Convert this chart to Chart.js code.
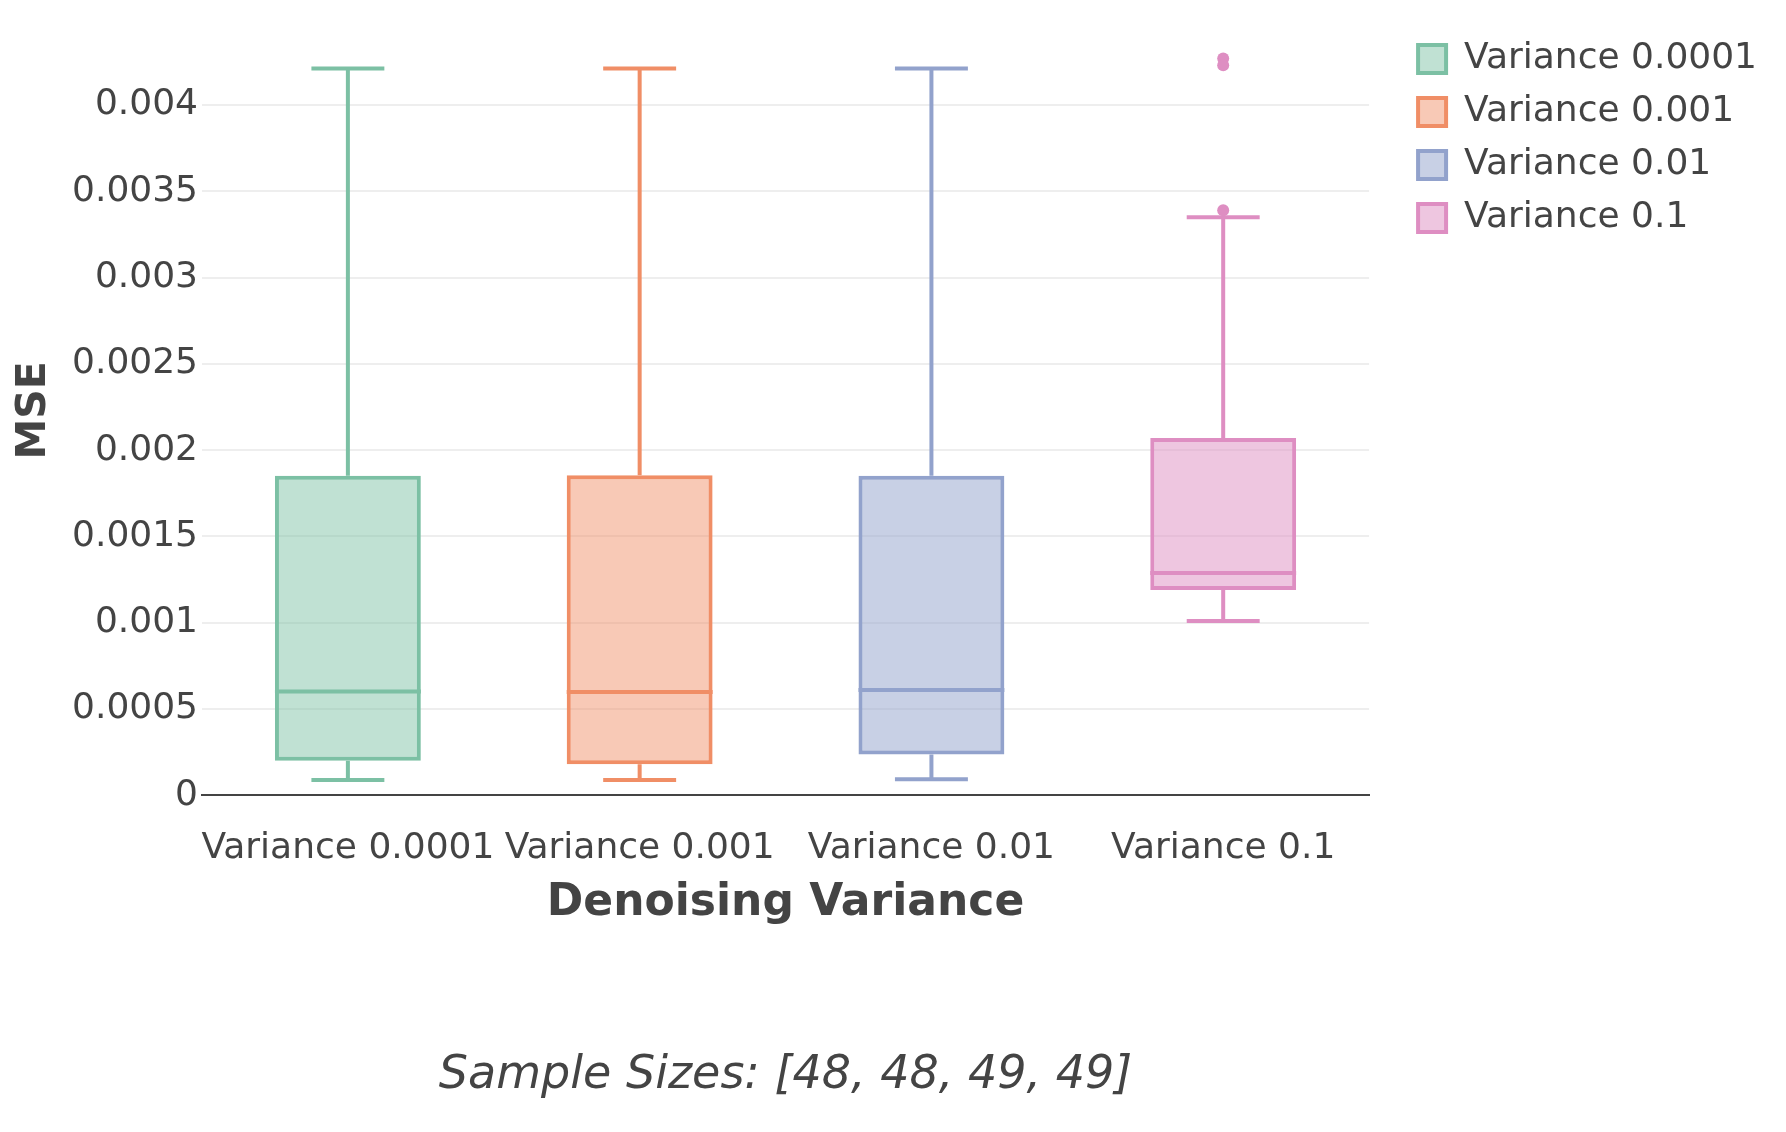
<!DOCTYPE html>
<html>
<head>
<meta charset="utf-8">
<title>MSE by denoising variance</title>
<script src="https://cdn.jsdelivr.net/npm/chart.js@4.4.0/dist/chart.umd.min.js"></script>
<style>
  html, body { margin: 0; padding: 0; background: #fff; }
  #wrap { width: 1786px; height: 1132px; }
</style>
</head>
<body>
<div id="wrap"><canvas id="boxChart" width="1786" height="1132"></canvas></div>
<script>
// box plot values
const categories = ['Variance 0.0001', 'Variance 0.001', 'Variance 0.01', 'Variance 0.1'];
const whiskerLow = [0.000089, 0.000089, 0.000093, 0.00101];
const q1 = [0.0002, 0.00018, 0.000236, 0.001189];
const median = [0.000601, 0.000599, 0.00061, 0.001288];
const q3 = [0.001851, 0.001855, 0.001851, 0.00207];
const whiskerHigh = [0.004212, 0.004212, 0.004212, 0.003349];
const outliers = [[], [], [], [0.00427, 0.00423, 0.00339]];
const sampleSizes = [48, 48, 49, 49];

const yTicks = [0, 0.0005, 0.001, 0.0015, 0.002, 0.0025, 0.003, 0.0035, 0.004];
const yTickLabels = ['0', '0.0005', '0.001', '0.0015', '0.002', '0.0025', '0.003', '0.0035', '0.004'];

const lineColors = ['rgb(124,192,164)', 'rgb(240,142,102)', 'rgb(146,162,204)', 'rgb(222,142,194)'];
const fillColors = ['rgba(124,192,164,0.48)', 'rgba(240,142,102,0.48)', 'rgba(146,162,204,0.5)', 'rgba(222,142,194,0.5)'];

Chart.defaults.font.family = '"DejaVu Sans", Verdana, sans-serif';
Chart.defaults.color = '#444';

// one floating bar per category = the box (q1..q3)
const boxDatasets = categories.map((cat, i) => ({
  label: cat,
  data: categories.map((c, j) => (j === i ? [q1[i], q3[i]] : null)),
  backgroundColor: fillColors[i],
  borderColor: lineColors[i],
  borderWidth: 4,
  borderSkipped: false,
  grouped: false,
  barPercentage: 0.5,
  categoryPercentage: 1
}));

const outlierPoints = [];
const outlierColors = [];
outliers.forEach((vals, i) => {
  vals.forEach(v => {
    outlierPoints.push({ x: categories[i], y: v });
    outlierColors.push(lineColors[i]);
  });
});

const outlierDataset = {
  type: 'line',
  label: 'outliers',
  data: outlierPoints,
  showLine: false,
  pointRadius: 6,
  pointBorderWidth: 0,
  pointBackgroundColor: outlierColors,
  pointBorderColor: outlierColors
};

// median, whiskers and caps
const whiskers = {
  id: 'whiskers',
  afterDatasetsDraw(chart) {
    const ctx = chart.ctx;
    const y = chart.scales.y;
    categories.forEach((cat, i) => {
      const bar = chart.getDatasetMeta(i).data[i];
      if (!bar) return;
      const half = bar.width / 2;
      const yMed = y.getPixelForValue(median[i]);
      const yHi = y.getPixelForValue(whiskerHigh[i]);
      const yLo = y.getPixelForValue(whiskerLow[i]);
      ctx.save();
      ctx.strokeStyle = lineColors[i];
      ctx.lineWidth = 4;
      ctx.beginPath();
      ctx.moveTo(bar.x - half, yMed);
      ctx.lineTo(bar.x + half, yMed);
      ctx.moveTo(bar.x, y.getPixelForValue(q3[i]));
      ctx.lineTo(bar.x, yHi);
      ctx.moveTo(bar.x - half / 2, yHi);
      ctx.lineTo(bar.x + half / 2, yHi);
      ctx.moveTo(bar.x, y.getPixelForValue(q1[i]));
      ctx.lineTo(bar.x, yLo);
      ctx.moveTo(bar.x - half / 2, yLo);
      ctx.lineTo(bar.x + half / 2, yLo);
      ctx.stroke();
      ctx.restore();
    });
  }
};

const ctx = document.getElementById('boxChart');
const boxChart = new Chart(ctx, {
  type: 'bar',
  data: {
    labels: categories,
    datasets: [...boxDatasets, outlierDataset]
  },
  plugins: [whiskers],
  options: {
    responsive: false,
    devicePixelRatio: 1,
    animation: false,
    layout: { padding: { top: 24, right: 19, bottom: 28, left: 0 } },
    plugins: {
      tooltip: { enabled: false },
      legend: {
        position: 'right',
        align: 'start',
        maxWidth: 420,
        labels: {
          font: { size: 36 },
          boxWidth: 28,
          boxHeight: 28,
          padding: 17,
          filter: item => item.datasetIndex < categories.length
        }
      },
      title: {
        display: true,
        position: 'bottom',
        fullSize: false,
        text: 'Sample Sizes: [' + sampleSizes.join(', ') + ']',
        font: { size: 46, style: 'italic', weight: 'normal' },
        padding: { top: 119, bottom: 0 }
      }
    },
    scales: {
      x: {
        afterFit: s => { s.height = 134.5; },
        grid: { display: false, drawTicks: false },
        border: { display: true, color: '#444', width: 2 },
        ticks: { font: { size: 36 }, padding: 32, maxRotation: 0, minRotation: 0, autoSkip: false },
        title: {
          display: true,
          text: 'Denoising Variance',
          font: { size: 44, weight: 'bold' },
          padding: { top: 6.5, bottom: 0 }
        }
      },
      y: {
        min: 0,
        max: 0.00446,
        afterBuildTicks: s => { s.ticks = yTicks.map(v => ({ value: v })); },
        afterFit: s => { s.width = 202; },
        grid: { color: '#eeeeee', lineWidth: 2, drawTicks: false },
        border: { display: false },
        ticks: {
          font: { size: 36 },
          padding: 4,
          callback: v => yTickLabels[yTicks.indexOf(v)]
        },
        title: {
          display: true,
          text: 'MSE',
          font: { size: 41, weight: 'bold' },
          padding: { top: 10, bottom: 0 }
        }
      },
      // empty right axis, only keeps a gap before the legend
      yGap: {
        position: 'right',
        display: true,
        grid: { display: false },
        border: { display: false },
        ticks: { display: false },
        afterFit: s => { s.width = 32; }
      }
    }
  }
});
</script>
</body>
</html>
